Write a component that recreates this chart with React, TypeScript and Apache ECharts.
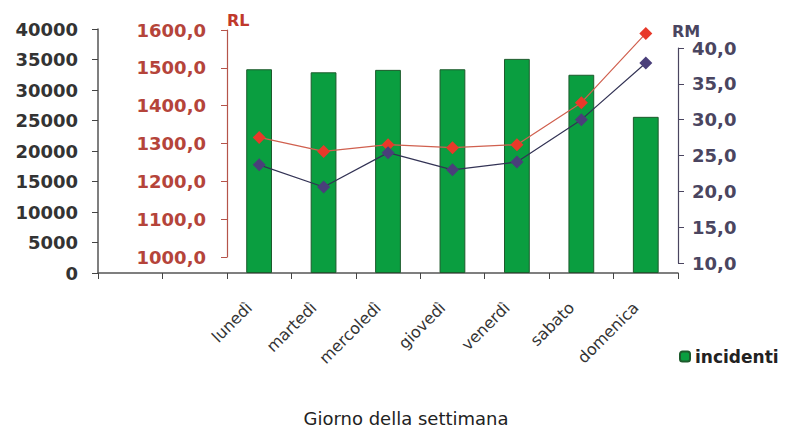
import React, { useEffect, useRef } from "react";
import * as echarts from "echarts";

const allCategories = ["", "", "lunedì", "martedì", "mercoledì", "giovedì", "venerdì", "sabato", "domenica"];
const dayCategories = ["lunedì", "martedì", "mercoledì", "giovedì", "venerdì", "sabato", "domenica"];
const incidenti = [null, null, 33400, 32900, 33300, 33400, 35100, 32500, 25600];
const rlValues = [1316, 1279, 1297, 1289, 1297, 1408, 1591];
const rmValues = [23.7, 20.6, 25.4, 23.0, 24.1, 30.0, 37.9];

const FONT = "DejaVu Sans";

export default function App() {
  const ref = useRef<HTMLDivElement>(null);
  useEffect(() => {
    document.body.style.margin = "0";
    const chart = echarts.init(ref.current!, null, { renderer: "svg" });
    const hiddenX = (gridIndex: number) => ({
      type: "category",
      gridIndex,
      data: dayCategories,
      boundaryGap: true,
      show: false,
    });
    const comma1 = (v: number) => v.toFixed(1).replace(".", ",");
    chart.setOption({
      animation: false,
      backgroundColor: "#ffffff",
      textStyle: { fontFamily: FONT },
      grid: [
        { left: 98, right: 111, top: 29, bottom: 158 },
        { left: 227, right: 111, top: 30, bottom: 174 },
        { left: 227, right: 111, top: 48, bottom: 168 },
      ],
      legend: {
        data: ["incidenti"],
        left: 674,
        top: 343,
        itemWidth: 10,
        itemHeight: 10,
        itemGap: 3,
        textStyle: { fontFamily: FONT, fontSize: 17, fontWeight: "bold", color: "#222" },
      },
      xAxis: [
        {
          type: "category",
          gridIndex: 0,
          data: allCategories,
          boundaryGap: true,
          axisLine: { lineStyle: { color: "#555", width: 1.5 } },
          axisTick: { show: true, inside: false, length: 6, lineStyle: { color: "#444" } },
          axisLabel: {
            interval: 0,
            rotate: 45,
            margin: 22,
            padding: [0, 14, 0, 0],
            fontFamily: FONT,
            fontSize: 16,
            color: "#333",
          },
        },
        hiddenX(1),
        hiddenX(2),
      ],
      yAxis: [
        {
          type: "value",
          gridIndex: 0,
          min: 0,
          max: 40000,
          interval: 5000,
          position: "left",
          splitLine: { show: false },
          axisLine: { show: true, lineStyle: { color: "#555", width: 1.5 } },
          axisTick: { show: true, length: 6, lineStyle: { color: "#444" } },
          axisLabel: {
            margin: 20,
            fontFamily: FONT,
            fontSize: 18,
            fontWeight: "bold",
            color: "#333",
            formatter: (v: number) => String(v),
          },
        },
        {
          type: "value",
          gridIndex: 1,
          min: 1000,
          max: 1600,
          interval: 100,
          position: "left",
          name: "RL",
          nameLocation: "end",
          nameGap: 2,
          nameTextStyle: { fontFamily: FONT, fontSize: 16, fontWeight: "bold", color: "#c0392b", align: "left" },
          splitLine: { show: false },
          axisLine: { show: true, lineStyle: { color: "#b5544a", width: 1.2 } },
          axisTick: { show: true, length: 6, lineStyle: { color: "#b5544a" } },
          axisLabel: {
            margin: 21,
            fontFamily: FONT,
            fontSize: 18,
            fontWeight: "bold",
            color: "#b5443a",
            formatter: comma1,
          },
        },
        {
          type: "value",
          gridIndex: 2,
          min: 10,
          max: 40,
          interval: 5,
          position: "right",
          name: "RM",
          nameLocation: "end",
          nameGap: 6,
          nameTextStyle: { fontFamily: FONT, fontSize: 16, fontWeight: "bold", color: "#4a4560", align: "left", padding: [0, 0, 0, -6] },
          splitLine: { show: false },
          axisLine: { show: true, lineStyle: { color: "#4a4560", width: 1.2 } },
          axisTick: { show: true, length: 6, lineStyle: { color: "#4a4560" } },
          axisLabel: {
            margin: 14,
            fontFamily: FONT,
            fontSize: 18,
            fontWeight: "bold",
            color: "#4a4560",
            formatter: comma1,
          },
        },
      ],
      series: [
        {
          name: "incidenti",
          type: "bar",
          xAxisIndex: 0,
          yAxisIndex: 0,
          data: incidenti,
          barWidth: "40%",
          itemStyle: { color: "#0a9e40", borderColor: "#1d5a2c", borderWidth: 1 },
        },
        {
          name: "RL",
          type: "line",
          xAxisIndex: 1,
          yAxisIndex: 1,
          data: rlValues,
          symbol: "diamond",
          symbolSize: 13,
          lineStyle: { color: "#d0604f", width: 1.2 },
          itemStyle: { color: "#e8392a" },
        },
        {
          name: "RM",
          type: "line",
          xAxisIndex: 2,
          yAxisIndex: 2,
          data: rmValues,
          symbol: "diamond",
          symbolSize: 13,
          lineStyle: { color: "#333355", width: 1.2 },
          itemStyle: { color: "#4a3f7a" },
        },
      ],
      graphic: [
        {
          type: "text",
          x: 406,
          y: 418,
          style: {
            text: "Giorno della settimana",
            font: `18px '${FONT}'`,
            fill: "#222",
            align: "center",
            verticalAlign: "middle",
          },
        },
      ],
    });
    return () => chart.dispose();
  }, []);
  return <div ref={ref} style={{ width: 789, height: 431 }} />;
}
